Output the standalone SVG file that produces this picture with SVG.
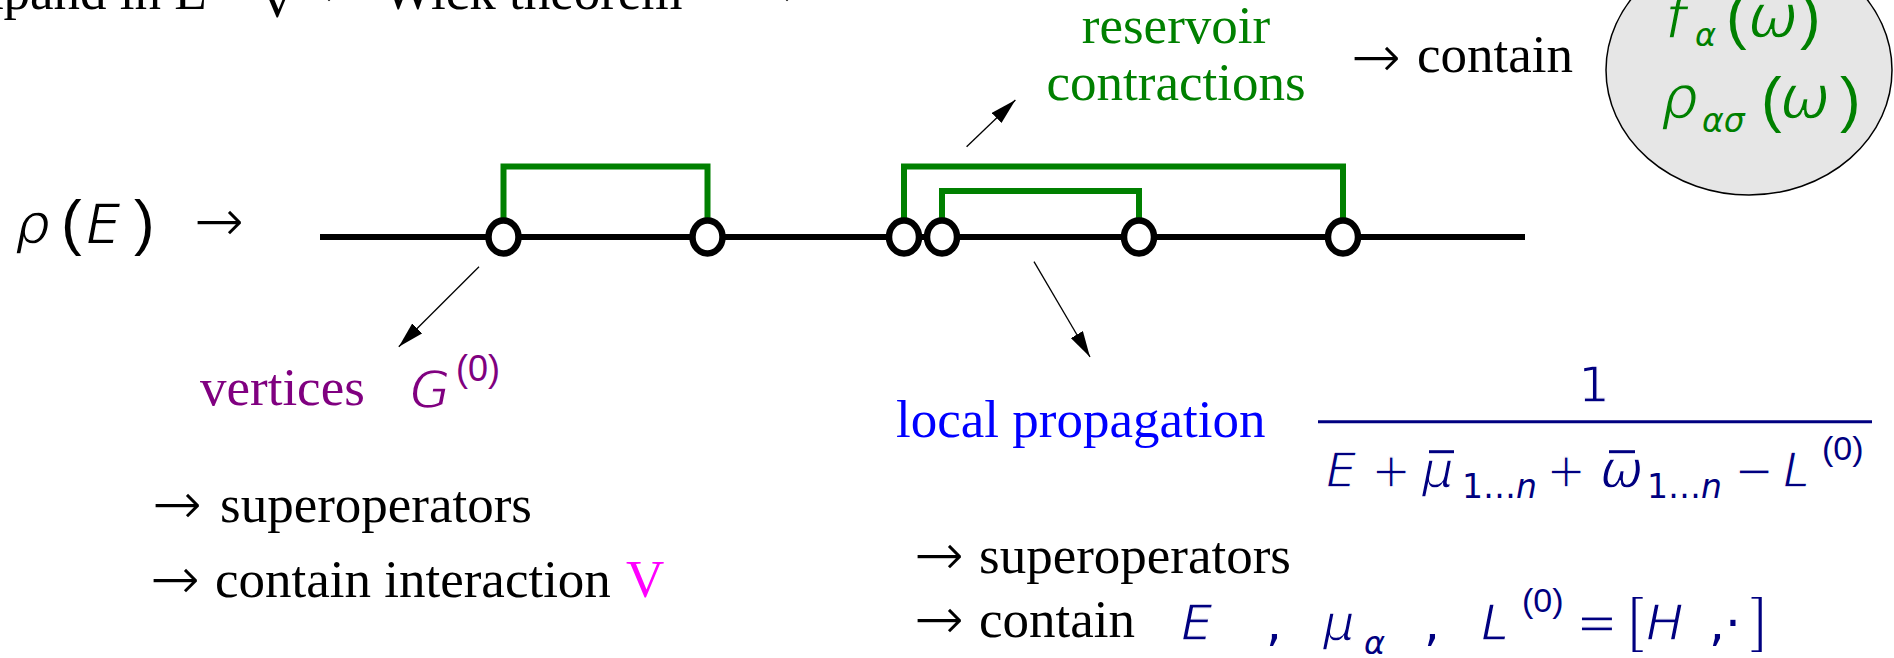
<svg xmlns="http://www.w3.org/2000/svg" width="1894" height="658" viewBox="0 0 1894 658">
<style>
.t{font-family:"Liberation Serif","Times New Roman",serif;font-size:53px}
.ar{font-family:"DejaVu Sans",sans-serif;font-size:62px;stroke:#fff;stroke-width:2px}
.m{font-family:"DejaVu Sans",sans-serif;font-style:italic}
.u{font-family:"DejaVu Sans",sans-serif}
.th{stroke:#fff;stroke-width:1.3px}
.thb{stroke:#fff;stroke-width:2px}
.p{font-family:"Liberation Sans",Arial,sans-serif}
.ong{stroke:#e6e6e6}
.navy{fill:#000080}
.grn{fill:#008000}
.pur{fill:#800080}
.line{stroke:#000;stroke-width:6;fill:none}
.ct{stroke:#008000;stroke-width:6;fill:none}
.vx{fill:#fff;stroke:#000;stroke-width:6.5}
.conn{stroke:#000;stroke-width:1.3;fill:none}
.bar{stroke:#000080;stroke-width:3}
</style>
<defs>
<marker id="ah" markerUnits="userSpaceOnUse" markerWidth="26" markerHeight="14" refX="26" refY="7" orient="auto"><path d="M0,0 L26,7 L0,14 z" fill="#000"/></marker>
</defs>
<rect width="1894" height="658" fill="#fff"/>

<g id="title">
<text class="t" x="-23" y="9" font-size="62">xpand in E</text>
<text class="t" x="258" y="17" font-size="36">V</text>
<text class="ar" x="292" y="9">→</text>
<text class="t" x="383" y="9" font-size="62">Wick theorem</text>
<text class="ar" x="750" y="9">→</text>
</g>

<g id="rho-E">
<text class="m th" x="15" y="243" font-size="55">ρ</text>
<text class="p" x="61" y="243" font-size="62">(</text>
<text class="m th" x="86" y="243" font-size="55">E</text>
<text class="p" x="134" y="243" font-size="62">)</text>
<text class="ar" x="193" y="242" font-size="58">→</text>
</g>

<g id="propagator-line">
<line class="line" x1="320" y1="237" x2="1525" y2="237"/>
</g>

<g id="contraction-1"><path class="ct" d="M503.5,237 V166.5 H707.5 V237"/></g>
<g id="contraction-2"><path class="ct" d="M904,237 V166.5 H1343 V237"/></g>
<g id="contraction-3"><path class="ct" d="M942,237 V191 H1139 V237"/></g>

<g id="vertex-1"><ellipse class="vx" cx="503.5" cy="237" rx="15" ry="16.5"/></g>
<g id="vertex-2"><ellipse class="vx" cx="707.5" cy="237" rx="15" ry="16.5"/></g>
<g id="vertex-3"><ellipse class="vx" cx="904" cy="237" rx="15" ry="16.5"/></g>
<g id="vertex-4"><ellipse class="vx" cx="942" cy="237" rx="15" ry="16.5"/></g>
<g id="vertex-5"><ellipse class="vx" cx="1139" cy="237" rx="15" ry="16.5"/></g>
<g id="vertex-6"><ellipse class="vx" cx="1343" cy="237" rx="15" ry="16.5"/></g>

<g id="connectors">
<line class="conn" x1="479" y1="266.7" x2="398.8" y2="346.7" marker-end="url(#ah)"/>
<line class="conn" x1="1034" y1="261.7" x2="1090" y2="357" marker-end="url(#ah)"/>
<line class="conn" x1="966.6" y1="146.7" x2="1015.4" y2="100" marker-end="url(#ah)"/>
</g>

<g id="reservoir-label">
<text class="t grn" x="1176" y="43" text-anchor="middle">reservoir</text>
<text class="t grn" x="1176" y="100" text-anchor="middle">contractions</text>
<text class="ar" x="1350" y="78" font-size="61">→</text>
<text class="t" x="1417" y="72">contain</text>
</g>

<g id="reservoir-functions">
<ellipse cx="1749" cy="70" rx="143" ry="125" fill="#e6e6e6" stroke="#000" stroke-width="1.5"/>
<text class="m grn th ong" x="1665" y="38" font-size="58">f</text>
<text class="m grn" x="1695" y="46" font-size="32">α</text>
<text class="p grn" x="1726" y="37" font-size="62">(</text>
<text class="m grn th ong" x="1748" y="37" font-size="60">ω</text>
<text class="p grn" x="1800" y="37" font-size="62">)</text>
<text class="m grn th ong" x="1661" y="118" font-size="58">ρ</text>
<text class="m grn" x="1702" y="132" font-size="33">ασ</text>
<text class="p grn" x="1761" y="120" font-size="62">(</text>
<text class="m grn th ong" x="1780" y="118" font-size="60">ω</text>
<text class="p grn" x="1840" y="120" font-size="62">)</text>
</g>

<g id="vertices-label">
<text class="t pur" x="200" y="405">vertices</text>
<text class="m pur th" x="410" y="408" font-size="52">G</text>
<text class="p pur" x="456" y="381" font-size="36">(0)</text>
<text class="ar" x="151" y="525">→</text>
<text class="t" x="220" y="522">superoperators</text>
<text class="ar" x="149" y="600">→</text>
<text class="t" x="215" y="597">contain interaction <tspan x="626" fill="#ff00ff">V</tspan></text>
</g>

<g id="propagation-label">
<text class="t" x="896" y="437" fill="#0000ff">local propagation</text>
<text class="u navy th" x="1594" y="402" font-size="50" text-anchor="middle">1</text>
<line x1="1318" y1="421.7" x2="1872" y2="421.7" class="bar"/>
<text class="m navy th" x="1326" y="486.7" font-size="48">E</text>
<text class="u navy th" x="1371" y="486.7" font-size="48">+</text>
<text class="m navy th" x="1422" y="486.7" font-size="50">μ</text>
<line x1="1429" y1="451.7" x2="1454" y2="451.7" class="bar"/>
<text class="u navy" x="1462" y="498" font-size="33">1…<tspan font-style="italic">n</tspan></text>
<text class="u navy th" x="1546" y="486.7" font-size="48">+</text>
<text class="m navy th" x="1600" y="486.7" font-size="52">ω</text>
<line x1="1609" y1="451.7" x2="1635" y2="451.7" class="bar"/>
<text class="u navy" x="1647" y="498" font-size="33">1…<tspan font-style="italic">n</tspan></text>
<text class="u navy th" x="1734" y="486.7" font-size="48">−</text>
<text class="m navy th" x="1783" y="486.7" font-size="48">L</text>
<text class="p navy" x="1822" y="460" font-size="34">(0)</text>
<text class="ar" x="913" y="576">→</text>
<text class="t" x="979" y="573">superoperators</text>
<text class="ar" x="913" y="640">→</text>
<text class="t" x="979" y="637">contain</text>
<text class="m navy th" x="1181" y="640" font-size="50">E</text>
<text class="u navy" x="1266" y="640" font-size="50">,</text>
<text class="m navy th" x="1323" y="640" font-size="50">μ</text>
<text class="m navy" x="1364" y="654" font-size="32">α</text>
<text class="u navy" x="1424" y="640" font-size="50">,</text>
<text class="m navy th" x="1481" y="640" font-size="50">L</text>
<text class="p navy" x="1522" y="612" font-size="34">(0)</text>
<text class="u navy th" x="1576" y="640" font-size="50">=</text>
<text class="p navy thb" x="1627" y="640" font-size="62">[</text>
<text class="m navy th" x="1646" y="640" font-size="50">H</text>
<text class="u navy" x="1709" y="640" font-size="50">,·</text>
<text class="p navy thb" x="1750" y="640" font-size="62">]</text>
</g>
</svg>
